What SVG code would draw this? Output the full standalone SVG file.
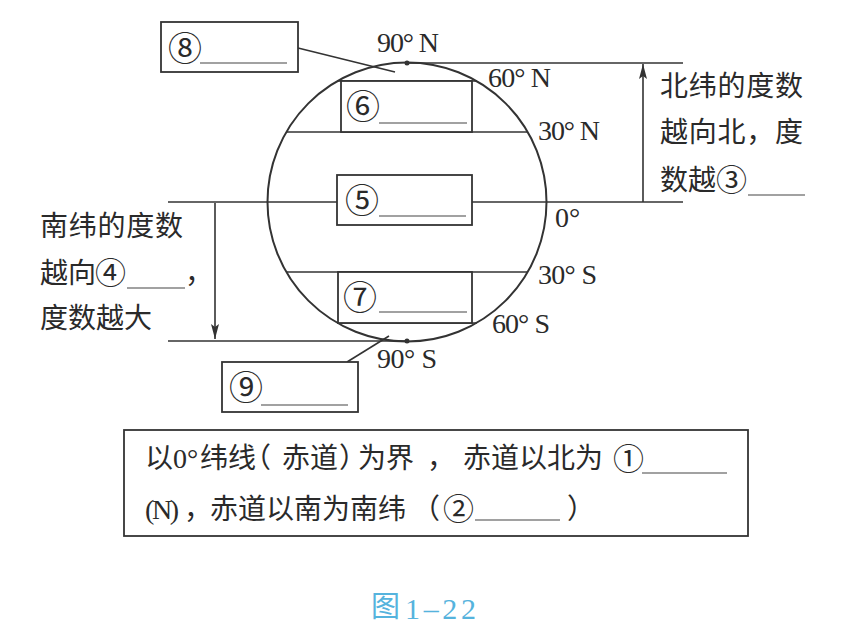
<svg xmlns="http://www.w3.org/2000/svg" width="851" height="629" viewBox="0 0 851 629">
<style>
.ln{stroke:#333;stroke-width:1.6;fill:none}
.bx{stroke:#333;stroke-width:1.8;fill:#fff}
.ul{stroke:#444;stroke-width:1.1}
.cj{font-family:"Noto Sans CJK SC","Noto Sans CJK TC",sans-serif;font-size:28px;fill:#2a2a2a}
.pr{font-family:"Noto Sans CJK SC","Noto Sans CJK TC",sans-serif;font-size:28px;fill:#2a2a2a;font-feature-settings:"halt"}
.cn{font-family:"Noto Sans CJK SC","Noto Sans CJK TC",sans-serif;font-size:34px;fill:#2a2a2a}
.cs{font-family:"Noto Sans CJK SC","Noto Sans CJK TC",sans-serif;font-size:31px;fill:#2a2a2a}
.lat{font-family:"Liberation Serif","Times New Roman",serif;font-size:28px;fill:#2a2a2a}
</style>
<defs>
<marker id="ah" markerWidth="16" markerHeight="10" refX="15" refY="5" orient="auto" markerUnits="userSpaceOnUse">
<path d="M0,1 L15,5 L0,9 L3,5 Z" fill="#333"/>
</marker>
</defs>
<rect width="851" height="629" fill="#fff"/>

<g id="connectors">
<line class="ln" x1="168" y1="202" x2="683" y2="202"/>
<line class="ln" x1="407" y1="63" x2="683" y2="63"/>
<line class="ln" x1="168" y1="341" x2="407" y2="341"/>
<line class="ln" x1="337" y1="81" x2="477" y2="81"/>
<line class="ln" x1="286" y1="132" x2="528" y2="132"/>
<line class="ln" x1="286" y1="272" x2="528" y2="272"/>
<line class="ln" x1="337" y1="323" x2="477" y2="323"/>
<line class="ln" x1="643" y1="202" x2="643" y2="64" marker-end="url(#ah)"/>
<line class="ln" x1="215" y1="203" x2="215" y2="339" marker-end="url(#ah)"/>
<line class="ln" x1="298" y1="48" x2="395" y2="72"/>
<line class="ln" x1="347" y1="362" x2="389" y2="336"/>
</g>

<g id="globe">
<circle cx="407" cy="202" r="139.5" fill="none" stroke="#333" stroke-width="2"/>
<circle cx="407" cy="63" r="2.5" fill="#333"/>
<circle cx="407" cy="341" r="2.5" fill="#333"/>
</g>

<g id="box6">
<rect class="bx" x="341" y="81" width="131" height="51"/>
<text class="cn" x="346" y="119">⑥</text>
<line class="ul" x1="379" y1="123" x2="467" y2="123"/>
</g>
<g id="box5">
<rect class="bx" x="337" y="175" width="135" height="50"/>
<text class="cn" x="345" y="213">⑤</text>
<line class="ul" x1="379" y1="216" x2="466" y2="216"/>
</g>
<g id="box7">
<rect class="bx" x="338" y="272" width="134" height="51"/>
<text class="cn" x="343" y="310">⑦</text>
<line class="ul" x1="379" y1="312" x2="467" y2="312"/>
</g>
<g id="box8">
<rect class="bx" x="161" y="22" width="137" height="50"/>
<text class="cn" x="168" y="61">⑧</text>
<line class="ul" x1="200" y1="63" x2="287" y2="63"/>
</g>
<g id="box9">
<rect class="bx" x="222" y="362" width="136" height="50"/>
<text class="cn" x="229" y="400">⑨</text>
<line class="ul" x1="261" y1="405" x2="348" y2="405"/>
</g>

<g id="labels">
<text class="lat" x="377" y="52" textLength="62">90° N</text>
<text class="lat" x="488" y="87" textLength="63">60° N</text>
<text class="lat" x="538" y="140" textLength="62">30° N</text>
<text class="lat" x="555" y="227">0°</text>
<text class="lat" x="538" y="284" textLength="59">30° S</text>
<text class="lat" x="492" y="333" textLength="58">60° S</text>
<text class="lat" x="377" y="368" textLength="60">90° S</text>
</g>

<g id="north-note">
<text class="cj" x="660" y="96" textLength="143">北纬的度数</text>
<text class="cj" x="660" y="142" textLength="143">越向北，度</text>
<text class="cj" x="660" y="190">数越</text>
<text class="cs" x="716" y="191">③</text>
<line class="ul" x1="748" y1="195" x2="805" y2="195"/>
</g>

<g id="south-note">
<text class="cj" x="40" y="236" textLength="143">南纬的度数</text>
<text class="cj" x="40" y="283">越向</text>
<text class="cs" x="95" y="284">④</text>
<line class="ul" x1="127" y1="288" x2="185" y2="288"/>
<text class="cj" x="185" y="283">，</text>
<text class="cj" x="40" y="328">度数越大</text>
</g>

<g id="definition">
<rect class="bx" x="124" y="430" width="624" height="106"/>
<text class="cj" x="145" y="468">以</text>
<text class="lat" x="173" y="468">0°</text>
<text class="cj" x="200" y="468">纬线</text>
<text class="pr" x="257" y="468">（</text>
<text class="cj" x="282" y="468">赤道</text>
<text class="pr" x="339" y="468">）</text>
<text class="cj" x="358" y="468">为界</text>
<text class="cj" x="427" y="468">，</text>
<text class="cj" x="463" y="468">赤道以北为</text>
<text class="cs" x="613" y="470">①</text>
<line class="ul" x1="642" y1="473" x2="727" y2="473"/>
<text class="lat" x="145" y="519" textLength="34">(N)</text>
<text class="cj" x="184" y="519">，</text>
<text class="cj" x="210" y="519">赤道以南为南纬</text>
<text class="pr" x="426" y="519">（</text>
<text class="cs" x="443" y="520">②</text>
<line class="ul" x1="475" y1="520" x2="560" y2="520"/>
<text class="pr" x="567" y="519">）</text>
</g>

<g id="caption">
<text x="371" y="617" style="font-family:'Noto Sans CJK SC',sans-serif;font-size:29px;fill:#55b3dd">图</text>
<text x="405" y="619" textLength="71" style="font-family:'Liberation Serif',serif;font-size:30px;fill:#55b3dd">1–22</text>
</g>
</svg>
